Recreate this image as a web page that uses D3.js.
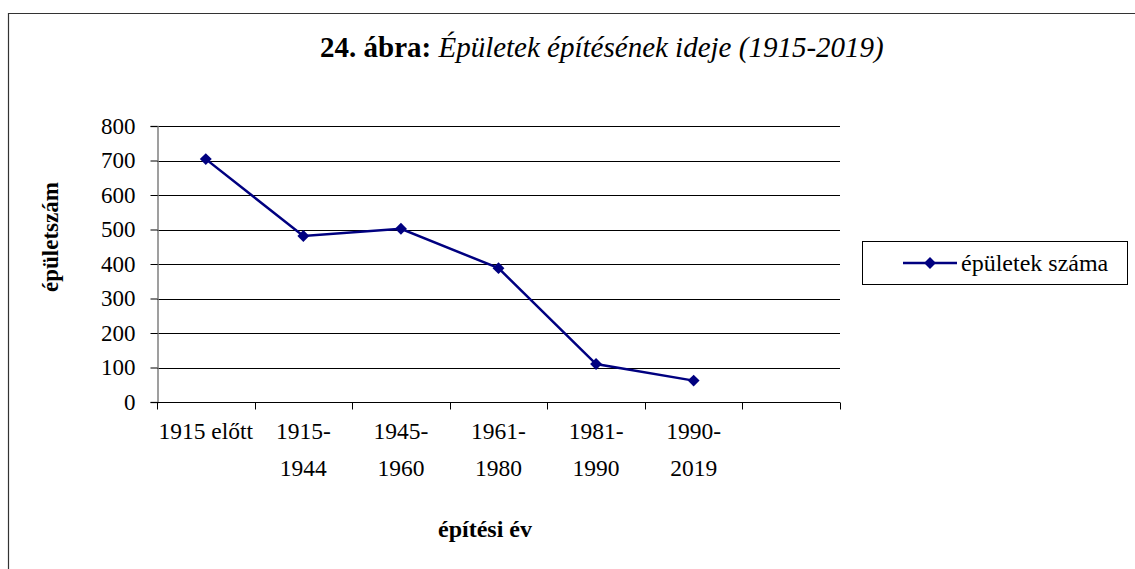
<!DOCTYPE html>
<html>
<head>
<meta charset="utf-8">
<script src="https://d3js.org/d3.v7.min.js"></script>
<style>
body{margin:0;background:#fff;}
</style>
</head>
<body>
<div id="chart"></div>
<script>
// adatok
var categories = [["1915 előtt"], ["1915-", "1944"], ["1945-", "1960"], ["1961-", "1980"], ["1981-", "1990"], ["1990-", "2019"], [""]];
var values = [704, 481, 502, 388, 110, 62];
var yTicks = [0, 100, 200, 300, 400, 500, 600, 700, 800];
var seriesName = "épületek száma";

var W = 1135, H = 569;
var plot = {left:157, right:840, top:126, bottom:402};
var FONT = "'Liberation Serif', 'Times New Roman', serif";

var svg = d3.select("#chart").append("svg")
	.attr("width", W)
	.attr("height", H);

// keret
svg.append("path")
	.attr("d", "M8.5," + H + "V13.5H" + W)
	.attr("fill", "none")
	.attr("stroke", "#333")
	.attr("stroke-width", 1.2);

var x = d3.scaleBand()
	.domain(d3.range(categories.length))
	.range([plot.left, plot.right])
	.paddingInner(0).paddingOuter(0);

var y = d3.scaleLinear()
	.domain([0, 800])
	.range([plot.bottom, plot.top]);

// rácsvonalak
svg.append("g")
	.selectAll("line")
	.data(yTicks.slice(1))
	.enter().append("line")
	.attr("x1", plot.left)
	.attr("x2", plot.right)
	.attr("y1", function(d){ return Math.round(y(d)) + 0.5; })
	.attr("y2", function(d){ return Math.round(y(d)) + 0.5; })
	.attr("stroke", "#000")
	.attr("stroke-width", 1);

// y tengely
var yAxis = svg.append("g")
	.attr("transform", "translate(" + (plot.left + 0.5) + ",0)")
	.call(d3.axisLeft(y).tickValues(yTicks).tickSize(7).tickPadding(15));
yAxis.select(".domain").attr("stroke", "#808080").attr("stroke-width", 1.5);
yAxis.selectAll(".tick line").attr("stroke", "#000");
yAxis.selectAll(".tick text")
	.attr("font-size", "23px");

// x tengely
var xAxis = svg.append("g")
	.attr("transform", "translate(0," + (plot.bottom + 0.5) + ")");
xAxis.append("line")
	.attr("x1", plot.left).attr("x2", plot.right)
	.attr("stroke", "#000").attr("stroke-width", 1.2);
xAxis.selectAll(".xt")
	.data(d3.range(categories.length + 1))
	.enter().append("line")
	.attr("class", "xt")
	.attr("x1", function(d){ return Math.round(plot.left + d * x.bandwidth()) + 0.5; })
	.attr("x2", function(d){ return Math.round(plot.left + d * x.bandwidth()) + 0.5; })
	.attr("y1", 0).attr("y2", 7)
	.attr("stroke", "#000");
xAxis.selectAll(".xl")
	.data(categories)
	.enter().append("text")
	.attr("class", "xl")
	.attr("text-anchor", "middle")
	.attr("font-size", "23.5px")
	.attr("transform", function(d, i){ return "translate(" + (x(i) + x.bandwidth()/2) + ",0)"; })
	.selectAll("tspan")
	.data(function(d){ return d; })
	.enter().append("tspan")
	.attr("x", 0)
	.attr("y", function(d, i){ return 36 + i * 37; })
	.text(function(d){ return d; });

// vonal
var line = d3.line()
	.x(function(d, i){ return x(i) + x.bandwidth()/2; })
	.y(function(d){ return y(d); });

svg.append("path")
	.datum(values)
	.attr("d", line)
	.attr("fill", "none")
	.attr("stroke", "#000080")
	.attr("stroke-width", 2.5);

var diamond = d3.symbol().type(d3.symbolDiamond2).size(90);
svg.selectAll(".pt")
	.data(values)
	.enter().append("path")
	.attr("class", "pt")
	.attr("d", diamond)
	.attr("transform", function(d, i){ return "translate(" + (x(i) + x.bandwidth()/2) + "," + y(d) + ")"; })
	.attr("fill", "#000080");

// cím
var title = svg.append("text")
	.attr("x", 320)
	.attr("y", 57)
	.attr("font-size", "29px");
title.append("tspan").attr("font-weight", "bold").text("24. ábra: ");
title.append("tspan").attr("font-style", "italic").text("Épületek építésének ideje (1915-2019)");

// tengelycímek
svg.append("text")
	.attr("transform", "translate(58,237) rotate(-90)")
	.attr("text-anchor", "middle")
	.attr("font-size", "23px")
	.attr("font-weight", "bold")
	.text("épületszám");

svg.append("text")
	.attr("x", 485)
	.attr("y", 537)
	.attr("text-anchor", "middle")
	.attr("font-size", "24px")
	.attr("font-weight", "bold")
	.text("építési év");

// jelmagyarázat
var legend = svg.append("g").attr("transform", "translate(862,241)");
legend.append("rect")
	.attr("x", 0.5).attr("y", 0.5)
	.attr("width", 265).attr("height", 43)
	.attr("fill", "#fff")
	.attr("stroke", "#000");
legend.append("line")
	.attr("x1", 41).attr("x2", 95)
	.attr("y1", 22).attr("y2", 22)
	.attr("stroke", "#000080").attr("stroke-width", 2.5);
legend.append("path")
	.attr("d", diamond)
	.attr("transform", "translate(68,22)")
	.attr("fill", "#000080");
legend.append("text")
	.attr("x", 99)
	.attr("y", 30)
	.attr("font-size", "24px")
	.text(seriesName);

// minden szöveg Times-szerű betűvel
svg.selectAll("text")
	.style("font-family", FONT)
	.style("fill", "#000");
</script>
</body>
</html>
